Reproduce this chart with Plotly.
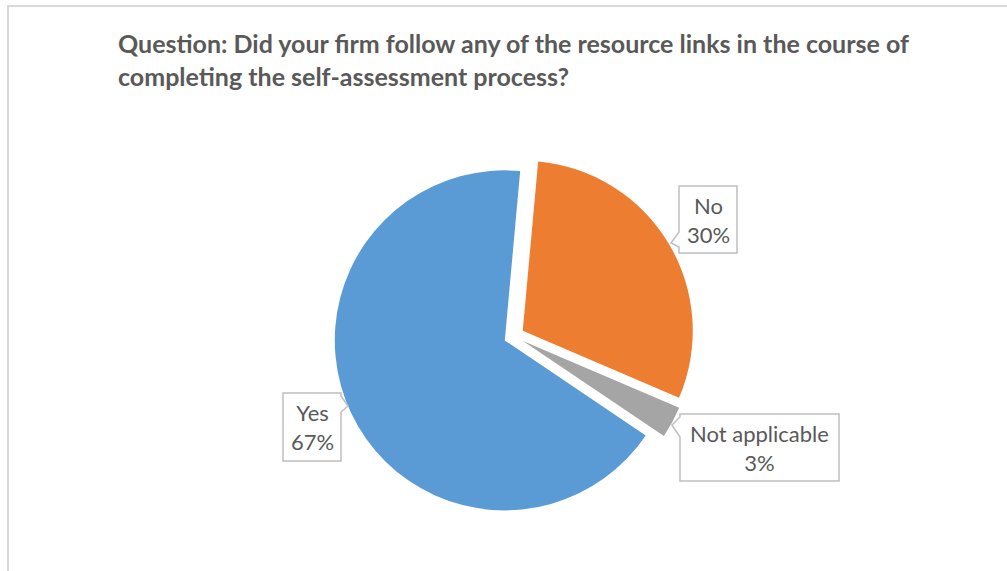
import plotly.graph_objects as go

# Survey responses
labels = ["Yes", "No", "Not applicable"]
shares = [67, 30, 3]
colors = ["#5B9BD5", "#ED7D31", "#A5A5A5"]

title_lines = [
    "Question: Did your firm follow any of the resource links in the course of",
    "completing the self-assessment process?",
]

W, H = 1007, 571
FONT = "Lato"
TEXT_GREY = "#595959"


def px(x):
    return x / W


def py(y):
    return 1 - y / H


def callout_path(pts):
    return "M " + " L ".join(f"{px(x):.5f},{py(y):.5f}" for x, y in pts) + " Z"


# Callout box geometry (pixels): left, right, top, bottom, notch points
callouts = {
    "Yes": dict(box=(283, 341, 393, 461),
                outline=[(283, 393), (341, 393), (341, 396), (348, 406), (341, 412),
                         (341, 461), (283, 461)]),
    "No": dict(box=(679, 737, 186, 253),
               outline=[(737, 186), (737, 253), (679, 253), (679, 247), (671, 243),
                        (679, 232), (679, 186)]),
    "Not applicable": dict(box=(680, 839, 414, 481),
                           outline=[(839, 414), (839, 481), (680, 481), (680, 437),
                                    (672, 425), (680, 417), (680, 414)]),
}

pull = 0.06
cx, cy, r = 514, 336, 170
half = r * (1 + pull)

fig = go.Figure(
    go.Pie(
        labels=labels,
        values=shares,
        marker=dict(colors=colors, line=dict(width=0)),
        sort=False,
        direction="clockwise",
        rotation=124,
        pull=[pull] * len(shares),
        textinfo="none",
        hoverinfo="skip",
        showlegend=False,
        domain=dict(x=[px(cx - half), px(cx + half)],
                    y=[py(cy + half), py(cy - half)]),
    )
)

shapes = [
    # chart frame
    dict(type="rect", xref="paper", yref="paper",
         x0=px(8), x1=1.05, y0=-0.05, y1=py(6),
         line=dict(color="#D9D9D9", width=2), fillcolor="rgba(0,0,0,0)", layer="below"),
]
annotations = []
for lab, val in zip(labels, shares):
    c = callouts[lab]
    shapes.append(dict(type="path", xref="paper", yref="paper",
                       path=callout_path(c["outline"]),
                       line=dict(color="#BFBFBF", width=1.5), fillcolor="white",
                       layer="above"))
    l, rr, t, b = c["box"]
    annotations.append(dict(
        xref="paper", yref="paper", x=px((l + rr) / 2), y=py((t + b) / 2),
        xanchor="center", yanchor="middle", showarrow=False,
        text=f"{lab}<br>{val}%", align="center",
        font=dict(family=FONT, size=22, color=TEXT_GREY),
    ))

title_centres = [43, 76]
for line, yc in zip(title_lines, title_centres):
    annotations.append(dict(
        xref="paper", yref="paper", x=px(116), y=py(yc),
        xanchor="left", yanchor="middle", showarrow=False,
        text=f"<b>{line}</b>", align="left",
        font=dict(family=FONT, size=25, color=TEXT_GREY),
    ))

fig.update_layout(
    width=W, height=H,
    margin=dict(l=0, r=0, t=0, b=0),
    paper_bgcolor="white",
    plot_bgcolor="white",
    shapes=shapes,
    annotations=annotations,
    hovermode=False,
)

fig.write_html("out.html", config=dict(displayModeBar=False))
